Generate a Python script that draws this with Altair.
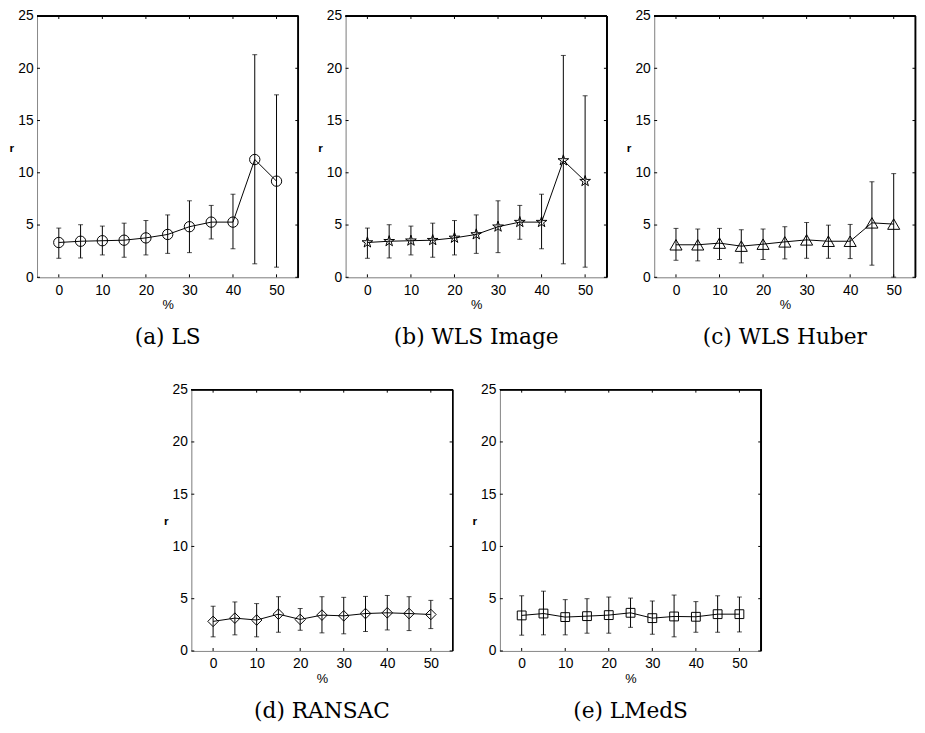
import altair as alt
import pandas as pd

# ---------------- data ----------------
pct = [0, 5, 10, 15, 20, 25, 30, 35, 40, 45, 50]

ls_mean = [3.33, 3.45, 3.50, 3.55, 3.77, 4.10, 4.84, 5.28, 5.28, 11.27, 9.20]
ls_hi = [4.71, 5.03, 4.90, 5.18, 5.43, 5.97, 7.32, 6.88, 7.95, 21.30, 17.46]
ls_lo = [1.82, 1.85, 2.14, 1.92, 2.14, 2.29, 2.36, 3.67, 2.73, 1.29, 0.97]

wi_mean = [3.33, 3.45, 3.50, 3.55, 3.77, 4.10, 4.84, 5.28, 5.28, 11.18, 9.20]
wi_hi = [4.71, 5.03, 4.90, 5.18, 5.43, 5.97, 7.32, 6.88, 7.95, 21.23, 17.37]
wi_lo = [1.82, 1.85, 2.14, 1.92, 2.14, 2.29, 2.36, 3.64, 2.73, 1.29, 0.97]

wh_mean = [3.11, 3.11, 3.27, 2.98, 3.17, 3.39, 3.58, 3.45, 3.45, 5.21, 5.09]
wh_hi = [4.68, 4.62, 4.68, 4.55, 4.62, 4.84, 5.24, 4.99, 5.06, 9.14, 9.92]
wh_lo = [1.63, 1.57, 1.70, 1.38, 1.70, 1.76, 1.82, 1.82, 1.79, 1.16, 0.02]

ra_mean = [2.83, 3.14, 2.96, 3.52, 3.02, 3.43, 3.36, 3.58, 3.65, 3.58, 3.49]
ra_hi = [4.28, 4.69, 4.53, 5.19, 4.06, 5.19, 5.13, 5.22, 5.31, 5.19, 4.84]
ra_lo = [1.35, 1.54, 1.35, 1.79, 1.98, 1.73, 1.64, 1.86, 2.01, 1.95, 2.14]

lm_mean = [3.40, 3.58, 3.24, 3.33, 3.43, 3.65, 3.14, 3.30, 3.27, 3.52, 3.52]
lm_hi = [5.28, 5.72, 4.91, 5.00, 5.16, 5.06, 4.78, 5.35, 4.72, 5.28, 5.16]
lm_lo = [1.51, 1.54, 1.54, 1.70, 1.70, 2.26, 1.60, 1.35, 1.79, 1.79, 1.82]

x_ticks = [0, 10, 20, 30, 40, 50]
y_ticks = [0, 5, 10, 15, 20, 25]

STAR = ("M0,-1 L0.225,-0.309 L0.951,-0.309 L0.363,0.118 L0.588,0.809 "
        "L0,0.382 L-0.588,0.809 L-0.363,0.118 L-0.951,-0.309 L-0.225,-0.309 Z")

W, H = 265, 265
TICK = 3
LABEL_FONT = "Liberation Sans"
CAP_FONT = "DejaVu Serif"


def panel(caption, shape, size, mean, lo, hi):
    df = pd.DataFrame({"pct": pct, "mean": mean, "lo": lo, "hi": hi})
    xs = alt.Scale(domain=[-5, 55], nice=False, zero=False)
    ys = alt.Scale(domain=[0, 25], nice=False, zero=True)
    xax = alt.Axis(values=x_ticks, ticks=False, tickSize=0, labelPadding=6,
                   title="%", titlePadding=2, grid=False,
                   labelFontSize=14, titleFontSize=13, titleFontWeight="normal")
    yax = alt.Axis(values=y_ticks, ticks=False, tickSize=0, labelPadding=4,
                   title="r", titleAngle=0, titleX=-26, titleY=133,
                   titleAlign="center", titleBaseline="middle", grid=False,
                   labelFontSize=14, titleFontSize=12, titleFontWeight="bold")
    base = alt.Chart(df)
    line = base.mark_line(color="black", strokeWidth=1).encode(
        x=alt.X("pct:Q", scale=xs, axis=xax),
        y=alt.Y("mean:Q", scale=ys, axis=yax),
    )
    bars = base.mark_rule(color="black", strokeWidth=1).encode(
        x="pct:Q", y="lo:Q", y2="hi:Q")
    cap_lo = base.mark_tick(color="black", orient="horizontal", size=5,
                            thickness=1).encode(x="pct:Q", y="lo:Q")
    cap_hi = base.mark_tick(color="black", orient="horizontal", size=5,
                            thickness=1).encode(x="pct:Q", y="hi:Q")
    pts = base.mark_point(shape=shape, size=size, filled=False, color="black",
                          strokeWidth=1, opacity=1).encode(x="pct:Q", y="mean:Q")

    xt = alt.Chart(pd.DataFrame({"t": x_ticks}))
    yt = alt.Chart(pd.DataFrame({"t": y_ticks}))
    tb = xt.mark_rule(color="black").encode(x="t:Q", y=alt.value(H), y2=alt.value(H - TICK))
    tt = xt.mark_rule(color="black").encode(x="t:Q", y=alt.value(0), y2=alt.value(TICK))
    tl = yt.mark_rule(color="black").encode(y="t:Q", x=alt.value(0), x2=alt.value(TICK))
    tr = yt.mark_rule(color="black").encode(y="t:Q", x=alt.value(W), x2=alt.value(W - TICK))

    # box frame (top and right edges; left/bottom are the axis domains)
    frame_top = xt.mark_rule(color="black", strokeWidth=1.2).encode(
        x=alt.value(0), x2=alt.value(W), y=alt.value(0))
    frame_right = xt.mark_rule(color="black", strokeWidth=1.2).encode(
        x=alt.value(W), y=alt.value(0), y2=alt.value(H))

    return alt.layer(line, bars, cap_lo, cap_hi, pts, tb, tt, tl, tr,
                     frame_top, frame_right).properties(
        width=W, height=H,
        title=alt.TitleParams(caption, orient="bottom", font=CAP_FONT, fontSize=22,
                              fontWeight="normal", color="black", offset=16,
                              anchor="middle"),
    )


a = panel("(a) LS", "circle", 110, ls_mean, ls_lo, ls_hi)
b = panel("(b) WLS Image", STAR, 130, wi_mean, wi_lo, wi_hi)
c = panel("(c) WLS Huber", "triangle-up", 150, wh_mean, wh_lo, wh_hi)
d = panel("(d) RANSAC", "diamond", 115, ra_mean, ra_lo, ra_hi)
e = panel("(e) LMedS", "square", 80, lm_mean, lm_lo, lm_hi)

top = alt.hconcat(a, b, c, spacing=17)
bottom = alt.hconcat(d, e, spacing=17)

chart = alt.vconcat(top, bottom, spacing=33, center=True).properties(
    padding={"left": 0, "top": -5, "right": 0, "bottom": 0}
).configure_view(stroke="transparent").configure_axis(
    domainColor="black", domainWidth=1.5, labelColor="black", titleColor="black",
    labelFont=LABEL_FONT, titleFont=LABEL_FONT,
).configure(background="white")

chart.save("out.html", embed_options={"renderer": "svg", "actions": False})
